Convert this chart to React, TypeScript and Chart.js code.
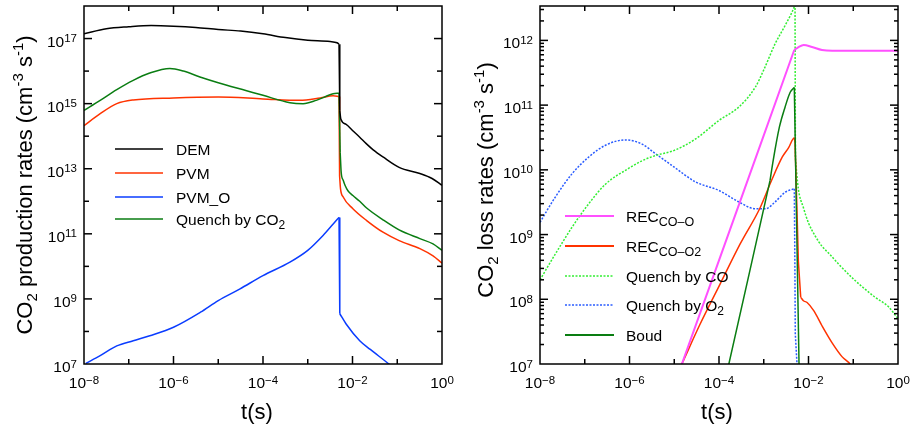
import React, { useEffect, useRef } from "react";
import { Chart, registerables } from "chart.js";
Chart.register(...registerables);

const FONT = '"Liberation Sans", Arial, Helvetica, sans-serif';

// ---------- Left panel: CO2 production rates ----------
const demT = [1e-8, 3.16e-8, 1e-7, 3.16e-7, 1e-6, 3.16e-6, 1e-5, 3.16e-5, 1e-4, 3.16e-4, 1e-3, 3.16e-3, 4.5e-3, 5.0e-3, 5.2e-3, 5.5e-3, 7.2e-3, 1e-2, 1.45e-2, 2e-2, 2.9e-2, 4.8e-2, 0.11, 0.32, 0.6, 1];
const demV = [1.4e17, 2.0e17, 2.3e17, 2.5e17, 2.4e17, 2.2e17, 1.9e17, 1.7e17, 1.4e17, 1.07e17, 8.9e16, 8.1e16, 7.4e16, 6.7e16, 6.0e14, 3.3e14, 2.3e14, 1.5e14, 9.3e13, 6e13, 3.8e13, 2.3e13, 1.1e13, 7.1e12, 5e12, 3.1e12];

const pvmT = [1e-8, 2.3e-8, 5.4e-8, 1.26e-7, 1e-6, 1e-5, 1e-4, 6.6e-4, 1.9e-3, 3.7e-3, 5.0e-3, 5.15e-3, 5.4e-3, 6.2e-3, 1.02e-2, 2.04e-2, 4.8e-2, 0.11, 0.32, 0.63, 1];
const pvmV = [2.1e14, 4.9e14, 1.0e15, 1.3e15, 1.5e15, 1.6e15, 1.4e15, 1.26e15, 1.5e15, 1.75e15, 1.65e15, 6e12, 2.4e12, 1.35e12, 5.9e11, 2.6e11, 1.12e11, 6.2e10, 3.5e10, 2.1e10, 1.26e10];

const pvmOT = [1.1e-8, 2.3e-8, 5.4e-8, 1.26e-7, 2.95e-7, 1e-6, 4e-6, 1e-5, 3e-5, 1e-4, 4e-4, 1e-3, 2.2e-3, 3.7e-3, 5.0e-3, 5.2e-3, 7.2e-3, 1.45e-2, 2.5e-2, 6.5e-2, 0.1];
const pvmOV = [1.05e7, 1.8e7, 3.6e7, 5.2e7, 7.4e7, 1.35e8, 3.9e8, 8.9e8, 2.0e9, 5.2e9, 1.35e10, 3.1e10, 8.9e10, 2.0e11, 3.2e11, 3.5e8, 1.7e8, 5.2e7, 2.8e7, 1.0e7, 6e6];

const qco2T = [1e-8, 2.3e-8, 5.4e-8, 1.26e-7, 2.95e-7, 8.3e-7, 1.66e-6, 3.9e-6, 1e-5, 4.3e-5, 1e-4, 4e-4, 7.9e-4, 1.55e-3, 3.7e-3, 5.0e-3, 5.3e-3, 5.6e-3, 6.2e-3, 6.8e-3, 7.9e-3, 1.02e-2, 1.45e-2, 2.04e-2, 4.8e-2, 0.11, 0.32, 0.63, 1];
const qco2V = [6.2e14, 1.26e15, 2.7e15, 5.2e15, 8.7e15, 1.2e16, 1.0e16, 6.6e15, 4.4e15, 2.5e15, 1.8e15, 1.07e15, 1.0e15, 1.26e15, 2.0e15, 2.1e15, 3.2e13, 7.5e12, 4.4e12, 3.1e12, 2.1e12, 1.5e12, 1.0e12, 6.3e11, 2.7e11, 1.32e11, 7.1e10, 4.9e10, 3.1e10];

// ---------- Right panel: CO2 loss rates ----------
const recOT = [1e-5, 1.48e-5, 1e-4, 1e-3, 4.8e-3, 6.0e-3, 7.8e-3, 1.2e-2, 2e-2, 3.4e-2, 1];
const recOV = [4.7e6, 1e7, 4e8, 3.4e10, 7.1e11, 7.9e11, 8.5e11, 7.9e11, 7.1e11, 6.9e11, 6.9e11];

const recO2T = [1e-5, 1.48e-5, 3.7e-5, 1.05e-4, 2.95e-4, 8.3e-4, 1.5e-3, 2.6e-3, 3.6e-3, 4.8e-3, 5.0e-3, 5.45e-3, 5.93e-3, 6.7e-3, 7.7e-3, 9.3e-3, 1.32e-2, 2e-2, 3.4e-2, 5.6e-2, 8.5e-2, 0.12];
const recO2V = [5.6e6, 1e7, 4e7, 1.7e8, 7.1e8, 2.6e9, 6.9e9, 1.58e10, 2.2e10, 3.1e10, 2.6e10, 3.3e9, 3.9e8, 1.07e8, 9.5e7, 8.9e7, 6.6e7, 3.9e7, 2.1e7, 1.3e7, 1.0e7, 7e6];

const qcoT = [1e-8, 2.2e-8, 5.2e-8, 1.23e-7, 2.9e-7, 9.5e-7, 1.9e-6, 3.8e-6, 1e-5, 3e-5, 1e-4, 2.75e-4, 6.5e-4, 1e-3, 1.8e-3, 3.0e-3, 4.8e-3, 5.0e-3, 5.1e-3, 5.9e-3, 7.7e-3, 1e-2, 1.41e-2, 2e-2, 2.95e-2, 4.7e-2, 0.11, 0.31, 0.62, 1];
const qcoV = [2.0e8, 5e8, 1.3e9, 3.0e9, 6.0e9, 1.05e10, 1.38e10, 1.66e10, 2.0e10, 3.0e10, 5.8e10, 9.3e10, 1.9e11, 3.5e11, 8.9e11, 1.7e12, 3.3e12, 3.6e12, 1.5e10, 5.2e9, 2.6e9, 1.51e9, 9.5e8, 6.6e8, 5.0e8, 3.5e8, 1.95e8, 1.07e8, 7.6e7, 5e7];

const qo2T = [1e-8, 2.2e-8, 5.2e-8, 1.23e-7, 2.9e-7, 8.1e-7, 1.9e-6, 3.8e-6, 1e-5, 3e-5, 1e-4, 2.75e-4, 6.5e-4, 1.1e-3, 1.8e-3, 3.0e-3, 4.82e-3, 4.95e-3, 5.07e-3, 5.6e-3];
const qo2V = [1.55e9, 3.8e9, 8.7e9, 1.58e10, 2.4e10, 2.9e10, 2.5e10, 1.78e10, 1.1e10, 6.5e9, 4.8e9, 3.2e9, 2.5e9, 2.5e9, 3.2e9, 4.5e9, 5.1e9, 4.5e8, 2.9e7, 8.7e6];

const boudT = [1.2e-4, 1.66e-4, 4.8e-4, 1.38e-3, 1.62e-3, 2.24e-3, 2.99e-3, 3.9e-3, 4.82e-3, 6.22e-3];
const boudV = [3.7e6, 1e7, 2.6e8, 6.8e9, 1.38e10, 4.6e10, 9.3e10, 1.58e11, 1.87e11, 6e6];

// ---------- Tick labels (decade exponents) ----------
const xTickExps = [-8, -6, -4, -2, 0];
const leftYTickExps = [7, 9, 11, 13, 15, 17];
const rightYTickExps = [7, 8, 9, 10, 11, 12];

type Run = { t: string; s: number; dy: number };
type Series = { t: number[]; v: number[]; color: string; width: number; dash?: number[]; lin?: [number, number][] };
type LegendItem = { runs: Run[]; color: string; width: number; dash?: number[] };

const R = (t: string, s = 15.5, dy = 0): Run => ({ t, s, dy });
const pts = (t: number[], v: number[]) => t.map((x, i) => ({ x, y: v[i] }));

// split a series into smooth (monotone) pieces and straight pieces (steep drops / straight ramps)
function pieces(s: Series) {
  const P = pts(s.t, s.v);
  const out: { data: { x: number; y: number }[]; mono: boolean }[] = [];
  let cur = 0;
  for (const [i, j] of s.lin || []) {
    if (i > cur) out.push({ data: P.slice(cur, i + 1), mono: true });
    out.push({ data: P.slice(i, j + 1), mono: false });
    cur = j;
  }
  if (cur < P.length - 1) out.push({ data: P.slice(cur), mono: true });
  return out;
}

function runsWidth(ctx: CanvasRenderingContext2D, runs: Run[]) {
  let w = 0;
  for (const r of runs) {
    ctx.font = `${r.s}px ${FONT}`;
    w += ctx.measureText(r.t).width;
  }
  return w;
}

function drawRuns(ctx: CanvasRenderingContext2D, runs: Run[], x: number, y: number, align: "left" | "right" | "center") {
  const w = runsWidth(ctx, runs);
  let cx = align === "left" ? x : align === "right" ? x - w : x - w / 2;
  ctx.textAlign = "left";
  ctx.textBaseline = "alphabetic";
  for (const r of runs) {
    ctx.font = `${r.s}px ${FONT}`;
    ctx.fillText(r.t, cx, y + r.dy);
    cx += ctx.measureText(r.t).width;
  }
}

const expRuns = (e: number): Run[] => [R("10", 15.5, 0), R(e < 0 ? "\u2212" + Math.abs(e) : String(e), 11.5, -4.5)];

interface PanelCfg {
  width: number;
  left: number;
  yMin: number;
  yMax: number;
  series: Series[];
  yLabels: number[];
  yDecades: number[];
  yMinor: boolean;
  yTitle: Run[];
  yTitleX: number;
  yTitleY: number;
  xTitleX: number;
  legend: { x0: number; x1: number; tx: number; rows: number[]; items: LegendItem[] };
}

const leftCfg: PanelCfg = {
  width: 456,
  left: 0,
  yMin: 1e7,
  yMax: 1e18,
  series: [
    { t: demT, v: demV, color: "#000000", width: 1.5, lin: [[13, 14]] },
    { t: qco2T, v: qco2V, color: "#0a7d12", width: 1.5, lin: [[15, 16]] },
    { t: pvmT, v: pvmV, color: "#ff3300", width: 1.5, lin: [[10, 11]] },
    { t: pvmOT, v: pvmOV, color: "#0a3cff", width: 1.5, lin: [[14, 15]] },
  ],
  yLabels: leftYTickExps,
  yDecades: [8, 9, 10, 11, 12, 13, 14, 15, 16, 17],
  yMinor: false,
  yTitle: [R("CO", 22), R("2", 15, 5), R(" production rates (cm", 22), R("-3", 15, -9), R(" s", 22), R("-1", 15, -9), R(")", 22)],
  yTitleX: 31.5,
  yTitleY: 185,
  xTitleX: 257,
  legend: {
    x0: 115,
    x1: 163,
    tx: 176,
    rows: [149, 173, 197, 219],
    items: [
      { runs: [R("DEM")], color: "#000000", width: 1.5 },
      { runs: [R("PVM")], color: "#ff3300", width: 1.5 },
      { runs: [R("PVM_O")], color: "#0a3cff", width: 1.5 },
      { runs: [R("Quench by CO"), R("2", 12, 4)], color: "#0a7d12", width: 1.5 },
    ],
  },
};

const rightCfg: PanelCfg = {
  width: 457,
  left: 456,
  yMin: 1e7,
  yMax: 3.4e12,
  series: [
    { t: recOT, v: recOV, color: "#ff50ff", width: 2, lin: [[0, 4]] },
    { t: boudT, v: boudV, color: "#0a7d12", width: 1.5, lin: [[0, 3], [8, 9]] },
    { t: recO2T, v: recO2V, color: "#ff3300", width: 1.5, lin: [[10, 13]] },
    { t: qcoT, v: qcoV, color: "#33ee33", width: 1.5, dash: [2, 1.5], lin: [[17, 18]] },
    { t: qo2T, v: qo2V, color: "#2a5cff", width: 1.5, dash: [2, 1.5], lin: [[16, 19]] },
  ],
  yLabels: rightYTickExps,
  yDecades: [8, 9, 10, 11, 12],
  yMinor: true,
  yTitle: [R("CO", 22), R("2", 15, 5), R(" loss rates (cm", 22), R("-3", 15, -9), R(" s", 22), R("-1", 15, -9), R(")", 22)],
  yTitleX: 37,
  yTitleY: 180,
  xTitleX: 261,
  legend: {
    x0: 109,
    x1: 158,
    tx: 170,
    rows: [216, 246, 276, 305, 335],
    items: [
      { runs: [R("REC"), R("CO\u2013O", 12.5, 4)], color: "#ff50ff", width: 2 },
      { runs: [R("REC"), R("CO\u2013O2", 12.5, 4)], color: "#ff3300", width: 2 },
      { runs: [R("Quench by CO")], color: "#33ee33", width: 1.5, dash: [2, 1.5] },
      { runs: [R("Quench by O"), R("2", 12, 4)], color: "#2a5cff", width: 1.5, dash: [2, 1.5] },
      { runs: [R("Boud")], color: "#0a7d12", width: 2 },
    ],
  },
};

function Panel({ cfg }: { cfg: PanelCfg }) {
  const ref = useRef<HTMLCanvasElement>(null);
  useEffect(() => {
    const canvas = ref.current!;
    const plot = {
      id: "axesDecor",
      afterDraw(chart: any) {
        const ctx: CanvasRenderingContext2D = chart.ctx;
        const a = chart.chartArea;
        const xs = chart.scales.x;
        const ys = chart.scales.y;
        ctx.save();
        ctx.strokeStyle = "#000";
        ctx.fillStyle = "#000";
        ctx.lineWidth = 1.5;
        ctx.setLineDash([]);
        const seg = (x1: number, y1: number, x2: number, y2: number) => {
          ctx.beginPath();
          ctx.moveTo(x1, y1);
          ctx.lineTo(x2, y2);
          ctx.stroke();
        };
        ctx.strokeRect(a.left, a.top, a.right - a.left, a.bottom - a.top);
        for (let e = -7; e <= -1; e++) {
          const px = xs.getPixelForValue(Math.pow(10, e));
          const len = xTickExps.includes(e) ? 8 : 5;
          seg(px, a.bottom, px, a.bottom - len);
          seg(px, a.top, px, a.top + len);
        }
        for (const d of cfg.yDecades) {
          const py = ys.getPixelForValue(Math.pow(10, d));
          const len = cfg.yLabels.includes(d) ? 8 : 5;
          seg(a.left, py, a.left + len, py);
          seg(a.right, py, a.right - len, py);
        }
        if (cfg.yMinor) {
          for (let d = 7; d <= 12; d++) {
            for (let m = 2; m <= 9; m++) {
              const v = m * Math.pow(10, d);
              if (v >= cfg.yMax) continue;
              const py = ys.getPixelForValue(v);
              seg(a.left, py, a.left + 4, py);
              seg(a.right, py, a.right - 4, py);
            }
          }
        }
        for (const e of xTickExps) {
          const px = xs.getPixelForValue(Math.pow(10, e));
          drawRuns(ctx, expRuns(e), px, 388, "center");
        }
        for (const e of cfg.yLabels) {
          const py = ys.getPixelForValue(Math.pow(10, e));
          drawRuns(ctx, expRuns(e), a.left - 7, py + 8, "right");
        }
        drawRuns(ctx, [R("t(s)", 22)], cfg.xTitleX, 419, "center");
        ctx.save();
        ctx.translate(cfg.yTitleX, cfg.yTitleY);
        ctx.rotate(-Math.PI / 2);
        drawRuns(ctx, cfg.yTitle, 0, 0, "center");
        ctx.restore();
        const L = cfg.legend;
        L.items.forEach((it, i) => {
          const y = L.rows[i];
          ctx.strokeStyle = it.color;
          ctx.lineWidth = it.width;
          ctx.setLineDash(it.dash || []);
          seg(L.x0, y, L.x1, y);
          ctx.setLineDash([]);
          ctx.fillStyle = "#000";
          drawRuns(ctx, it.runs, L.tx, y + 6, "left");
        });
        ctx.restore();
      },
    };
    const datasets: any[] = [];
    for (const s of cfg.series) {
      for (const p of pieces(s)) {
        datasets.push({
          data: p.data,
          borderColor: s.color,
          borderWidth: s.width,
          borderDash: s.dash || [],
          pointRadius: 0,
          fill: false,
          cubicInterpolationMode: p.mono ? "monotone" : "default",
          tension: 0,
          clip: 0,
        });
      }
    }
    const chart = new Chart(canvas, {
      type: "line",
      data: { datasets },
      options: {
        responsive: false,
        animation: false,
        events: [],
        layout: { padding: { left: 84, right: cfg.width - 442, top: 6, bottom: 65 } },
        plugins: { legend: { display: false }, title: { display: false }, tooltip: { enabled: false } },
        scales: {
          x: { type: "logarithmic", min: 1e-8, max: 1, display: false },
          y: { type: "logarithmic", min: cfg.yMin, max: cfg.yMax, display: false },
        },
      },
      plugins: [plot],
    } as any);
    return () => chart.destroy();
  }, [cfg]);
  return (
    <canvas
      ref={ref}
      width={cfg.width}
      height={429}
      style={{ position: "absolute", left: cfg.left, top: 0, width: cfg.width, height: 429 }}
    />
  );
}

export default function App() {
  return (
    <div style={{ position: "absolute", left: 0, top: 0, width: 913, height: 429, background: "#fff" }}>
      <Panel cfg={leftCfg} />
      <Panel cfg={rightCfg} />
    </div>
  );
}
